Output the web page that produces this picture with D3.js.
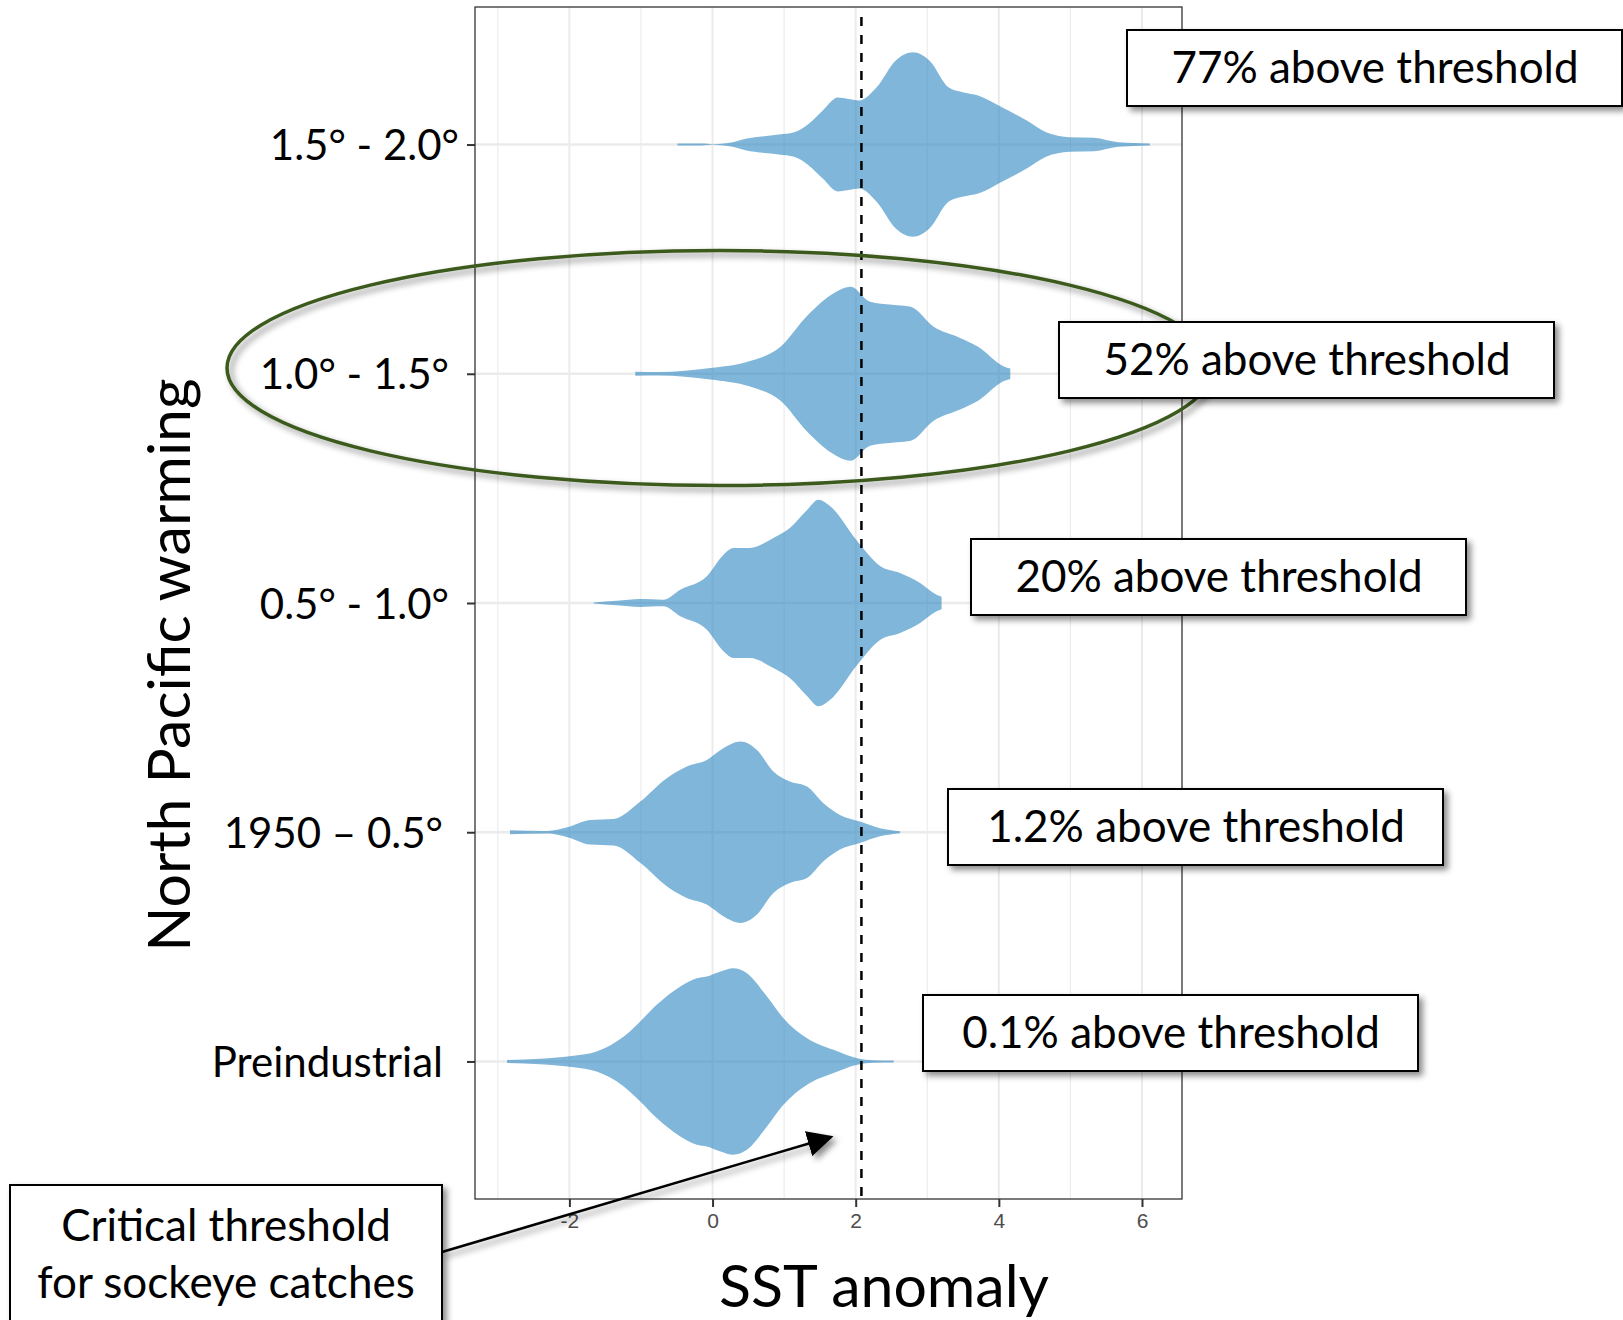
<!DOCTYPE html>
<html>
<head>
<meta charset="utf-8">
<script src="https://cdn.jsdelivr.net/npm/d3@7"></script>
<style>
  body { margin: 0; background: #fff; }
  svg { display: block; }
</style>
</head>
<body>
<div id="chart"></div>
<script>
const width = 1623;
const height = 1320;

// categories, top to bottom
const categories = ["1.5° - 2.0°", "1.0° - 1.5°", "0.5° - 1.0°", "1950 – 0.5°", "Preindustrial"];
const aboveLabels = ["77% above threshold", "52% above threshold", "20% above threshold", "1.2% above threshold", "0.1% above threshold"];
const xTicks = [-2, 0, 2, 4, 6];
const threshold = 2.08;

// violin profiles: [SST anomaly, relative density]
const dens15_20 = [[-0.49, 0.009], [-0.15, 0.009], [0.0, 0.002], [0.12, 0.008], [0.26, 0.019], [0.46, 0.055], [0.93, 0.097], [1.14, 0.119], [1.34, 0.2], [1.54, 0.33], [1.75, 0.455], [1.88, 0.443], [2.05, 0.426], [2.29, 0.552], [2.56, 0.814], [2.8, 0.894], [3.03, 0.814], [3.3, 0.552], [3.51, 0.504], [3.71, 0.475], [4.05, 0.358], [4.39, 0.233], [4.66, 0.119], [4.99, 0.071], [5.33, 0.065], [5.67, 0.022], [6.11, 0.01]];
const dens10_15 = [[-1.08, 0.019], [-0.75, 0.016], [-0.03, 0.055], [0.5, 0.119], [0.95, 0.262], [1.31, 0.552], [1.66, 0.765], [1.93, 0.843], [2.2, 0.698], [2.51, 0.669], [2.77, 0.649], [3.09, 0.455], [3.45, 0.349], [3.71, 0.262], [4.07, 0.071], [4.16, 0.05]];
const dens05_10 = [[-1.66, 0.005], [-1.34, 0.022], [-1.01, 0.039], [-0.69, 0.032], [-0.45, 0.129], [-0.08, 0.259], [0.15, 0.465], [0.29, 0.533], [0.52, 0.533], [0.85, 0.63], [1.08, 0.727], [1.32, 0.901], [1.48, 1.0], [1.64, 0.94], [2.02, 0.601], [2.34, 0.359], [2.62, 0.291], [2.9, 0.194], [3.13, 0.08], [3.2, 0.06]];
const dens1950 = [[-2.83, 0.019], [-2.31, 0.013], [-2.03, 0.048], [-1.71, 0.119], [-1.38, 0.129], [-1.01, 0.297], [-0.64, 0.523], [-0.36, 0.637], [-0.08, 0.701], [0.15, 0.814], [0.39, 0.879], [0.62, 0.797], [0.85, 0.588], [1.08, 0.491], [1.32, 0.443], [1.55, 0.281], [1.78, 0.168], [2.06, 0.104], [2.34, 0.039], [2.62, 0.01]];
const densPre = [[-2.87, 0.015], [-2.41, 0.026], [-1.94, 0.055], [-1.62, 0.097], [-1.24, 0.242], [-1.01, 0.388], [-0.78, 0.549], [-0.45, 0.727], [-0.22, 0.807], [-0.08, 0.824], [0.11, 0.872], [0.29, 0.904], [0.48, 0.856], [0.76, 0.63], [0.99, 0.42], [1.32, 0.226], [1.69, 0.113], [2.02, 0.032], [2.25, 0.012], [2.53, 0.01]];
const profiles = [dens15_20, dens10_15, dens05_10, dens1950, densPre];

// hand-placed overlay boxes (pixels)
const boxPos = [[1127, 30], [1059, 322], [971, 539], [948, 789], [923, 995]];
const labelShift = [0, -10, -10, -16, -16];

const panel = {left: 475, top: 7, right: 1182, bottom: 1199};
const calibri = "Lato, 'Open Sans', sans-serif";

const svg = d3.select("#chart").append("svg")
    .attr("width", width)
    .attr("height", height);

const defs = svg.append("defs");
const shadow = defs.append("filter").attr("id", "shadow")
    .attr("x", "-10%").attr("y", "-10%").attr("width", "130%").attr("height", "140%");
shadow.append("feDropShadow")
    .attr("dx", 4).attr("dy", 4).attr("stdDeviation", 3)
    .attr("flood-color", "#000").attr("flood-opacity", 0.45);

defs.append("marker").attr("id", "arrowhead")
    .attr("viewBox", "0 0 10 10").attr("refX", 9).attr("refY", 5)
    .attr("markerWidth", 26).attr("markerHeight", 26)
    .attr("markerUnits", "userSpaceOnUse")
    .attr("orient", "auto")
    .append("path").attr("d", "M0,0 L10,5 L0,10 Z").attr("fill", "#000");

// scales
const allX = profiles.flat().map(d => d[0]);
const [xmin, xmax] = d3.extent(allX);
const pad = (xmax - xmin) * 0.05;
const x = d3.scaleLinear().domain([xmin - pad, xmax + pad]).range([panel.left, panel.right]);
const y = d3.scalePoint().domain(categories).range([panel.top, panel.bottom]).padding(0.6);
const maxDens = d3.max(profiles.flat(), d => d[1]);
const w = d3.scaleLinear().domain([0, maxDens]).range([0, y.step() * 0.45]);

// grid
const grid = svg.append("g");
grid.selectAll(".minor").data(d3.range(-3, 7, 2)).enter().append("line")
    .attr("x1", d => x(d)).attr("x2", d => x(d))
    .attr("y1", panel.top).attr("y2", panel.bottom)
    .attr("stroke", "#EBEBEB").attr("stroke-width", 1.1);
grid.selectAll(".major").data(d3.range(-2, 7, 2)).enter().append("line")
    .attr("x1", d => x(d)).attr("x2", d => x(d))
    .attr("y1", panel.top).attr("y2", panel.bottom)
    .attr("stroke", "#EBEBEB").attr("stroke-width", 2);
grid.selectAll(".hgrid").data(categories).enter().append("line")
    .attr("x1", panel.left).attr("x2", panel.right)
    .attr("y1", d => y(d)).attr("y2", d => y(d))
    .attr("stroke", "#EBEBEB").attr("stroke-width", 2.5);

// violins
const area = d3.area()
    .curve(d3.curveMonotoneX)
    .x(d => x(d[0]));
svg.append("g").selectAll("path").data(profiles).enter().append("path")
    .attr("d", (p, i) => {
        const c = y(categories[i]);
        return area.y0(d => c - w(d[1])).y1(d => c + w(d[1]))(p);
    })
    .attr("fill", "#2C86BF")
    .attr("fill-opacity", 0.6);

// threshold
svg.append("line")
    .attr("x1", x(threshold)).attr("x2", x(threshold))
    .attr("y1", panel.top + 10).attr("y2", panel.bottom)
    .attr("stroke", "#000").attr("stroke-width", 2.5)
    .attr("stroke-dasharray", "9,9");

// panel border
svg.append("rect")
    .attr("x", panel.left).attr("y", panel.top)
    .attr("width", panel.right - panel.left).attr("height", panel.bottom - panel.top)
    .attr("fill", "none").attr("stroke", "#333").attr("stroke-width", 1.3);

// x axis
const xAxis = svg.append("g")
    .attr("transform", `translate(0,${panel.bottom})`)
    .call(d3.axisBottom(x).tickValues(xTicks).tickSize(8).tickPadding(6).tickFormat(d3.format("d")));
xAxis.select(".domain").remove();
xAxis.selectAll(".tick line").attr("stroke", "#333").attr("stroke-width", 2);
xAxis.selectAll(".tick text")
    .attr("fill", "#4D4D4D")
    .style("font-family", "'Liberation Sans', Arial, sans-serif")
    .style("font-size", "21px")
    .text(d => d < 0 ? "-" + Math.abs(d) : d);

// y axis
const yAxis = svg.append("g")
    .attr("transform", `translate(${panel.left},0)`)
    .call(d3.axisLeft(y).tickSize(8).tickPadding(0));
yAxis.select(".domain").remove();
yAxis.selectAll(".tick line").attr("stroke", "#333").attr("stroke-width", 2);
yAxis.selectAll(".tick text")
    .attr("x", (d, i) => -16 + labelShift[i])
    .attr("dy", "0.36em")
    .attr("fill", "#000")
    .style("font-family", calibri)
    .style("font-size", "42px");

// axis titles
svg.append("text")
    .attr("transform", "translate(190,665) rotate(-90)")
    .attr("text-anchor", "middle")
    .style("font-family", calibri)
    .style("font-size", "59px")
    .text("North Pacific warming");

svg.append("text")
    .attr("x", 884).attr("y", 1307)
    .attr("text-anchor", "middle")
    .style("font-family", calibri)
    .style("font-size", "59px")
    .text("SST anomaly");

// highlight ellipse
svg.append("ellipse")
    .attr("cx", 720).attr("cy", 368)
    .attr("rx", 493).attr("ry", 117.5)
    .attr("fill", "none")
    .attr("stroke", "#3A5A1E")
    .attr("stroke-width", 3.5)
    .attr("filter", "url(#shadow)");

// annotation boxes
const boxes = svg.append("g").selectAll("g").data(aboveLabels).enter().append("g")
    .attr("transform", (d, i) => `translate(${boxPos[i][0]},${boxPos[i][1]})`);
boxes.append("rect")
    .attr("width", 495).attr("height", 76)
    .attr("fill", "#fff").attr("stroke", "#000").attr("stroke-width", 2)
    .attr("filter", "url(#shadow)");
boxes.append("text")
    .attr("x", 248).attr("y", 53)
    .attr("text-anchor", "middle")
    .style("font-family", calibri)
    .style("font-size", "44px")
    .text(d => d);

// critical threshold callout
svg.append("line")
    .attr("x1", 442).attr("y1", 1252)
    .attr("x2", 831).attr("y2", 1137)
    .attr("stroke", "#000").attr("stroke-width", 2.5)
    .attr("marker-end", "url(#arrowhead)")
    .attr("filter", "url(#shadow)");

const callout = svg.append("g").attr("transform", "translate(10,1185)");
callout.append("rect")
    .attr("width", 432).attr("height", 200)
    .attr("fill", "#fff").attr("stroke", "#000").attr("stroke-width", 2)
    .attr("filter", "url(#shadow)");
callout.selectAll("text").data(["Critical threshold", "for sockeye catches"]).enter().append("text")
    .attr("x", 216).attr("y", (d, i) => 56 + i * 57)
    .attr("text-anchor", "middle")
    .style("font-family", calibri)
    .style("font-size", "44px")
    .text(d => d);
</script>
</body>
</html>
